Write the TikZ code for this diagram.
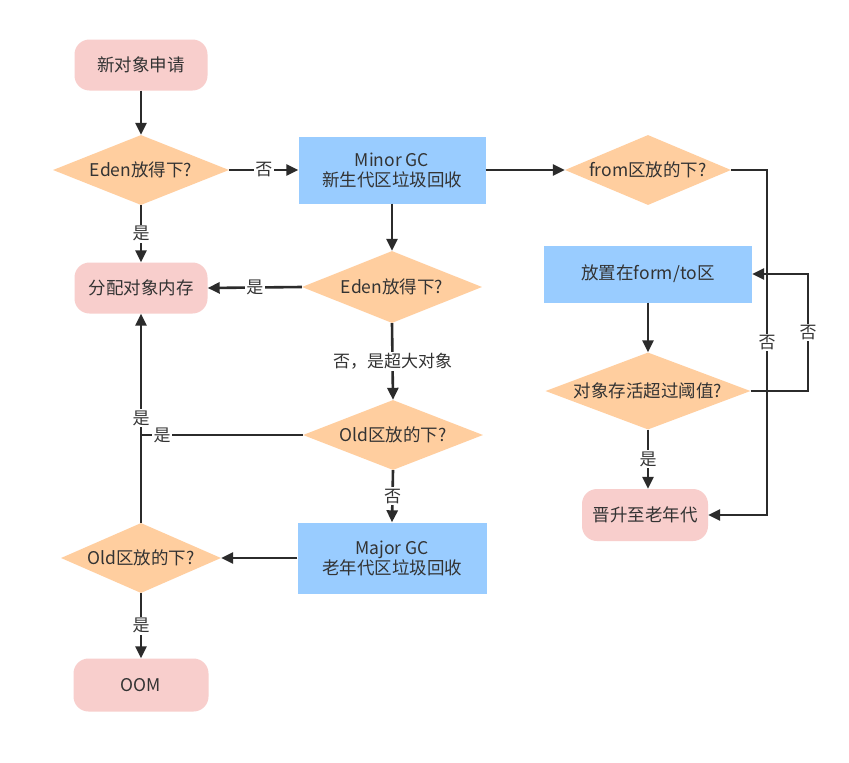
\documentclass[tikz,border=0pt]{standalone}
\usepackage{fontspec}
\setmainfont{Noto Sans CJK SC}
\usetikzlibrary{shapes.geometric,arrows.meta}
\definecolor{pinkfill}{HTML}{F8CECC}
\definecolor{orangefill}{HTML}{FFCE9F}
\definecolor{bluefill}{HTML}{99CCFF}
\definecolor{linecol}{HTML}{2B2B2B}
\definecolor{textcol}{HTML}{333333}
\tikzset{
  termbox/.style={rounded corners=15pt, fill=pinkfill, draw=none, minimum width=133pt, minimum height=51pt, text=textcol, font=\fontsize{17.5}{20}\selectfont, inner sep=0pt},
  decide/.style={diamond, aspect=3, fill=orangefill, draw=none, inner sep=0pt, text=textcol, font=\fontsize{17.5}{20}\selectfont},
  procbox/.style={rectangle, fill=bluefill, draw=none, text=textcol, align=center, font=\fontsize{17.5}{20}\selectfont, inner sep=0pt},
  conn/.style={draw=linecol, line width=2.6pt, -{Triangle[length=12pt,width=11pt]}},
  plainconn/.style={draw=linecol, line width=2.6pt},
  lbl/.style={fill=white, inner sep=1.5pt, text=textcol, font=\fontsize{17}{20}\selectfont}
}
\begin{document}
\begin{tikzpicture}[x=1pt,y=-1pt]
\useasboundingbox (0,0) rectangle (849,763);
\fill[white] (0,0) rectangle (849,763);
% nodes
\node[termbox] (new) at (141,65) {新对象申请};
\node[decide, minimum width=176pt, minimum height=70pt] (d1) at (141,170) {Eden放得下?};
\node[procbox, minimum width=187pt, minimum height=67pt] (minor) at (392,170) {Minor GC\\新生代区垃圾回收};
\node[decide, minimum width=156pt, minimum height=70pt] (from) at (648,170) {from区放的下?};
\node[procbox, minimum width=208pt, minimum height=57pt] (place) at (648,274) {放置在form/to区};
\node[decide, minimum width=205pt, minimum height=77pt] (surv) at (648,391) {对象存活超过阈值?};
\node[termbox, minimum width=126pt, minimum height=52pt] (promote) at (645,515) {晋升至老年代};
\node[termbox] (alloc) at (141,288) {分配对象内存};
\node[decide, minimum width=180pt, minimum height=72pt] (d2) at (392,287) {Eden放得下?};
\node[decide, minimum width=180pt, minimum height=70pt] (d3) at (393,435) {Old区放的下?};
\node[procbox, minimum width=189pt, minimum height=71pt] (major) at (392,558) {Major GC\\老年代区垃圾回收};
\node[decide, minimum width=160pt, minimum height=70pt] (d4) at (141,558) {Old区放的下?};
\node[termbox, minimum width=135pt, minimum height=53pt] (oom) at (141,685) {OOM};
\coordinate (j1) at (141,435);
\coordinate (r1) at (767,170);
\coordinate (r2) at (767,515);
\coordinate (s1) at (808,391);
\coordinate (s2) at (808,274);
% connectors
\draw[conn] (new) -- (d1);
\draw[conn] (d1.east) -- node[lbl] {否} (minor.west);
\draw[conn] (d1.south) -- node[lbl] {是} (alloc.north);
\draw[conn] (minor.east) -- (from.west);
\draw[conn] (minor.south) -- (d2.north);
\draw[conn] (d2.west) -- node[lbl] {是} (alloc.east);
\draw[conn] (d2.south) -- node[lbl] {否，是超大对象} (d3.north);
\draw[conn] (d3.south) -- node[lbl] {否} (major.north);
\draw[conn] (major.west) -- (d4.east);
\draw[conn] (d4.south) -- node[lbl] {是} (oom.north);
\draw[conn] (d4.north) -- node[lbl] {是} (alloc.south);
\draw[plainconn] (d3.west) -- node[lbl, pos=0.87] {是} (j1);
\draw[conn] (from.east) -- (r1) -- node[lbl] {否} (r2) -- (promote.east);
\draw[conn] (place.south) -- (surv.north);
\draw[conn] (surv.east) -- (s1) -- node[lbl] {否} (s2) -- (place.east);
\draw[conn] (surv.south) -- node[lbl] {是} (surv.south |- promote.north);
\end{tikzpicture}
\end{document}
